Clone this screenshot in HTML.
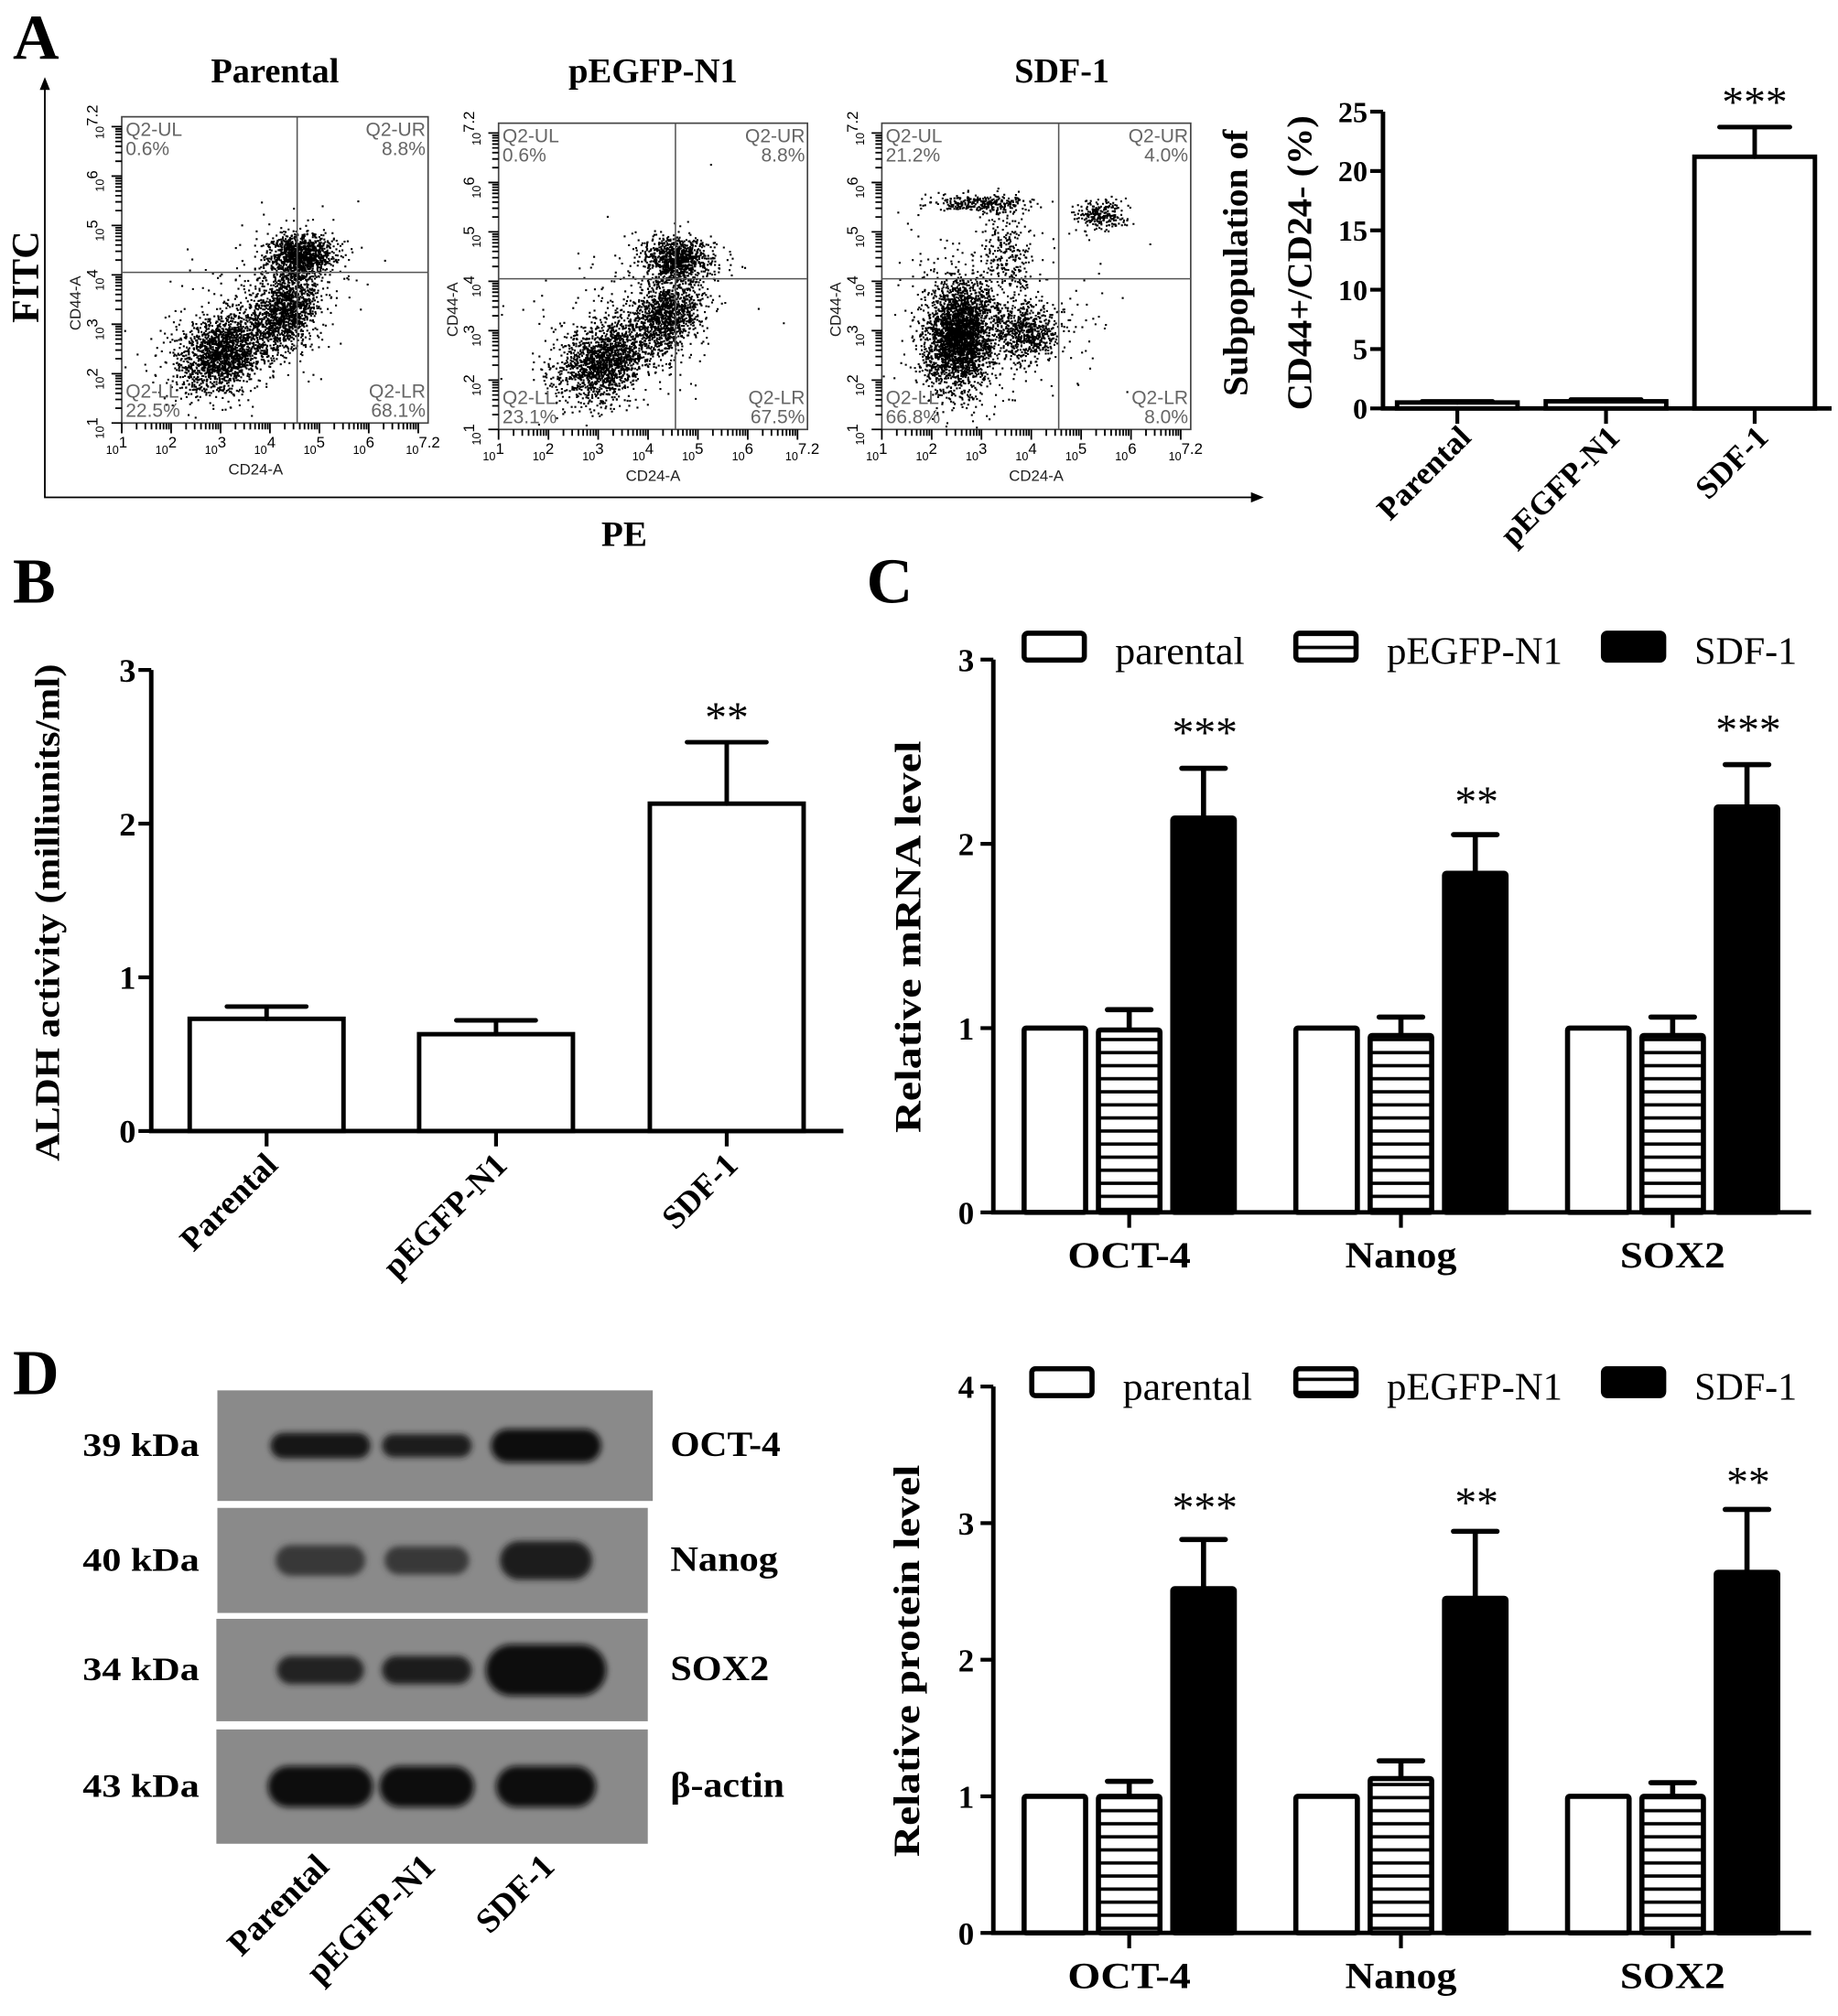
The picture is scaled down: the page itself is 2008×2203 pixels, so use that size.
<!DOCTYPE html>
<html><head><meta charset="utf-8"><style>
html,body{margin:0;padding:0;background:#fff;}
svg{display:block;}
</style></head><body>
<svg id="fig" xmlns="http://www.w3.org/2000/svg" width="2008" height="2203" viewBox="0 0 1434 1573" font-family="Liberation Serif, serif">
<defs>
<filter id="blur" x="-30%" y="-60%" width="160%" height="220%"><feGaussianBlur stdDeviation="2.5"/></filter>
<pattern id="hatch" patternUnits="userSpaceOnUse" width="10" height="10.2"><rect width="10" height="10.2" fill="#fff"/><rect y="4" width="10" height="2.6" fill="#000"/></pattern>
</defs>
<g id="root"></g>
</svg>
<script>
// ---------- data ----------
const aCategories = ['Parental','pEGFP-N1','SDF-1'];
const aValues = [0.5, 0.6, 21.2];
const aErrTop = [0.6, 0.75, 23.7];
const aTicks = [0,5,10,15,20,25];
const bCategories = ['Parental','pEGFP-N1','SDF-1'];
const bValues = [0.73, 0.63, 2.13];
const bErrTop = [0.81, 0.72, 2.53];
const bTicks = [0,1,2,3];
const genes = ['OCT-4','Nanog','SOX2'];
const cParental = [1,1,1];
const cPegfp = [0.99,0.96,0.96];
const cPegfpErr = [1.10,1.06,1.06];
const cSdf = [2.14,1.84,2.20];
const cSdfErr = [2.41,2.05,2.43];
const cStars = ['***','**','***'];
const cTicks = [0,1,2,3];
const dParental = [1,1,1];
const dPegfp = [1.0,1.13,1.0];
const dPegfpErr = [1.11,1.26,1.10];
const dSdf = [2.52,2.45,2.64];
const dSdfErr = [2.88,2.94,3.10];
const dStars = ['***','**','**'];
const dTicks = [0,1,2,3,4];
const flowTitles = ['Parental','pEGFP-N1','SDF-1'];
const flowQuadUL = ['0.6%','0.6%','21.2%'];
const flowQuadUR = ['8.8%','8.8%','4.0%'];
const flowQuadLL = ['22.5%','23.1%','66.8%'];
const flowQuadLR = ['68.1%','67.5%','8.0%'];
// cluster centres in log10 units: [cx, cy, sx, sy, rho, n]
const flowClusters1 = [[3.0,2.45,0.45,0.40,0.3,1700],[4.3,3.3,0.33,0.40,0.2,1300],[4.6,4.4,0.32,0.22,0,1100],[3.6,3.1,1.0,0.9,0.5,350]];
const flowClusters2 = [[3.1,2.4,0.45,0.40,0.3,1500],[4.35,3.3,0.33,0.40,0.2,1100],[4.6,4.45,0.32,0.22,0,900],[3.6,3.1,1.0,0.9,0.5,350]];
const flowClusters3 = [[2.55,2.9,0.35,0.55,0.1,2800],[3.9,3.0,0.35,0.30,0,600],[3.0,5.6,0.5,0.09,0,300],[5.4,5.35,0.25,0.17,0,250],[3.5,4.5,0.25,0.5,0,250],[3.2,3.2,1.0,0.9,0,350]];
const blotRows = ['OCT-4','Nanog','SOX2','β-actin'];
const blotKda = ['39 kDa','40 kDa','34 kDa','43 kDa'];
const blotIntensity = [[0.9,0.85,1.0],[0.6,0.6,0.85],[0.8,0.85,1.0],[1.0,1.0,1.0]];
const blotWidth = [[78,70,86],[70,66,72],[68,70,94],[82,74,78]];
const blotHeight = [[20,18,26],[24,22,30],[22,22,40],[32,32,32]];

// ---------- helpers ----------
const NS='http://www.w3.org/2000/svg';
const root=document.getElementById('root');
function el(tag, attrs, parent, txt){
  const e=document.createElementNS(NS,tag);
  for(const k in attrs) e.setAttribute(k,attrs[k]);
  if(txt!==undefined) e.textContent=txt;
  (parent||root).appendChild(e);
  return e;
}
function rnd(seed){return function(){seed|=0;seed=seed+0x6D2B79F5|0;let t=Math.imul(seed^seed>>>15,1|seed);t=t+Math.imul(t^t>>>7,61|t)^t;return((t^t>>>14)>>>0)/4294967296;};}
const SANS='font-family:"Liberation Sans",sans-serif';

// ---------- panel letters ----------
[['A',10,46],['B',10,470],['C',676,470],['D',10,1088]].forEach(([t,x,y])=>{
  const e=el('text',{x:x,y:y,'font-size':50,'font-weight':'bold'},root,t);
  
  
});

// ---------- Panel A flow plots ----------
const axA=el('path',{d:'M35,64 L35,388 L982,388',fill:'none',stroke:'#000','stroke-width':1.3});


const arrows=el('path',{d:'M31,70 L35,60 L39,70 Z M976,384 L986,388 L976,392 Z',fill:'#000'});


let t=el('text',{x:0,y:0,'font-size':30,'font-weight':'bold','text-anchor':'middle',transform:'translate(30,216) rotate(-90)'},root,'FITC');


t=el('text',{x:487,y:426,'font-size':28,'font-weight':'bold','text-anchor':'middle'},root,'PE');



const flowBoxes=[[95,91,334,330],[389,96,630,335],[688,96,929,335]];
const flowClusters=[flowClusters1,flowClusters2,flowClusters3];
const titleLens=[100,132,74];
flowBoxes.forEach((b,i)=>{
  const [x0,y0,x1,y1]=b;
  const g=el('g',{});
  
  
  const fx=v=>x0+(v-1)/6.2*(x1-x0);
  const fy=v=>y1-(v-1)/6.2*(y1-y0);
  let tt=el('text',{x:(x0+x1)/2+(i==2?20:0),y:64,'font-size':27,'font-weight':'bold','text-anchor':'middle',textLength:titleLens[i],lengthAdjust:'spacingAndGlyphs'},g,flowTitles[i]);
  
  
  const r=rnd(17+i*101);
  flowClusters[i].forEach((c,ci)=>{
    const [cx,cy,sx,sy,rho,n]=c;
    let d='';
    for(let k=0;k<n;k++){
      const u1=r()||1e-9,u2=r();
      const z1=Math.sqrt(-2*Math.log(u1))*Math.cos(2*Math.PI*u2);
      const z2=Math.sqrt(-2*Math.log(u1))*Math.sin(2*Math.PI*u2);
      const lx=cx+sx*z1, ly=cy+sy*(rho*z1+Math.sqrt(1-rho*rho)*z2);
      if(lx<1.02||lx>7.18||ly<1.02||ly>7.18) continue;
      d+='M'+fx(lx).toFixed(1)+' '+fy(ly).toFixed(1)+'h1.5v1.5h-1.5z';
    }
    const p=el('path',{d:d,fill:'#000'},g);
    
    
  });
  const box=el('rect',{x:x0,y:y0,width:x1-x0,height:y1-y0,fill:'none',stroke:'#444','stroke-width':1.2},g);
  
  
  const qx=fx(4.55), qy=fy(4.05);
  const q=el('path',{d:`M${qx},${y0}V${y1}M${x0},${qy}H${x1}`,stroke:'#555','stroke-width':1.1,fill:'none'},g);
  
  
  let td='';
  for(let dec=1;dec<=7;dec++){
    for(let k=1;k<=9;k++){
      const v=dec+Math.log10(k); if(v>7.2) break;
      const L=k==1?8:5;
      td+=`M${fx(v).toFixed(1)},${y1}v${L}M${x0},${fy(v).toFixed(1)}h${-L}`;
    }
  }
  const tk=el('path',{d:td,stroke:'#000','stroke-width':1.3,fill:'none'},g);
  
  
  const decs=[1,2,3,4,5,6,7.2];
  const sup=['1','2','3','4','5','6','7.2'];
  decs.forEach((v,j)=>{
    const lb=el('text',{x:fx(v)-4,y:y1+24,'font-size':9,style:SANS,'text-anchor':'middle'},g,'10');
    
    
    el('tspan',{dy:-5,'font-size':12},lb,sup[j]);
    const lb2=el('text',{x:0,y:0,'font-size':9,style:SANS,'text-anchor':'middle',transform:`translate(${x0-14},${fy(v)+4}) rotate(-90)`},g,'10');
    
    
    el('tspan',{dy:-5,'font-size':12},lb2,sup[j]);
  });
  let ax=el('text',{x:(x0+x1)/2+(i==0?-15:0),y:y1+40,'font-size':12,style:SANS,'text-anchor':'middle',fill:'#222'},g,'CD24-A');
  
  
  ax=el('text',{x:0,y:0,'font-size':12,style:SANS,'text-anchor':'middle',fill:'#222',transform:`translate(${x0-32},${qy+24}) rotate(-90)`},g,'CD44-A');
  
  
  const qs=[['Q2-UL',flowQuadUL[i],x0+3,y0+15,'start'],['Q2-UR',flowQuadUR[i],x1-2,y0+15,'end'],['Q2-LL',flowQuadLL[i],x0+3,y1-20,'start'],['Q2-LR',flowQuadLR[i],x1-2,y1-20,'end']];
  qs.forEach(([a,bb,x,y,anchor])=>{
    const q1=el('text',{x:x,y:y,'font-size':15,style:SANS,'text-anchor':anchor,fill:'#666'},g,a);
    
    
    const q2=el('text',{x:x,y:y+15,'font-size':15,style:SANS,'text-anchor':anchor,fill:'#666'},g,bb);
    
    
  });
});

// ---------- simple bar chart ----------
function simpleBars(opt){
  const g=el('g',{});
  
  
  const y=v=>opt.y0-v/opt.max*(opt.y0-opt.yTop);
  const ax=el('path',{d:`M${opt.ax},${y(opt.max)}V${opt.y0}H${opt.axEnd}`,stroke:'#000','stroke-width':3.5,fill:'none'},g);
  
  
  opt.ticks.forEach(v=>{
    const tk=el('line',{x1:opt.ax-10,x2:opt.ax,y1:y(v),y2:y(v),stroke:'#000','stroke-width':3},g);
    
    
    const tl=el('text',{x:opt.ax-12,y:y(v)+opt.tf*0.35,'font-size':opt.tf,'font-weight':'bold','text-anchor':'end'},g,String(v));
    
    
  });
  opt.cats.forEach((c,i)=>{
    const cx=opt.cx[i];
    const b=el('rect',{x:cx-opt.bw/2,y:y(opt.vals[i]),width:opt.bw,height:opt.y0-y(opt.vals[i]),fill:'#fff',stroke:'#000','stroke-width':3.5},g);
    
    
    const e=el('path',{d:`M${cx},${y(opt.vals[i])}V${y(opt.err[i])}M${cx-opt.cap/2},${y(opt.err[i])}H${cx+opt.cap/2}`,stroke:'#000','stroke-width':3.5,'stroke-linecap':'round',fill:'none'},g);
    
    
    const tk=el('line',{x1:cx,x2:cx,y1:opt.y0,y2:opt.y0+12,stroke:'#000','stroke-width':3},g);
    
    
    const lb=el('text',{x:0,y:0,'font-size':opt.lf,'font-weight':'bold','text-anchor':'end',transform:`translate(${cx+opt.lx},${opt.y0+opt.ly}) rotate(-45)`},g,c);
    
    
    if(opt.stars[i]){
      const s=el('text',{x:cx,y:y(opt.err[i])-opt.sOff,'font-size':opt.sf,'text-anchor':'middle'},g,opt.stars[i]);
      
      
    }
  });
  const yt=el('g',{transform:`translate(${opt.tx},${opt.ty}) rotate(-90)`},g);
  opt.title.forEach((ln,k)=>{
    const tl=el('text',{x:0,y:k*opt.tgap,'font-size':opt.titleF,'font-weight':'bold','text-anchor':'middle',textLength:opt.tlen[k],lengthAdjust:'spacingAndGlyphs'},yt,ln);
    
    
  });
}
simpleBars({name:'cd44-cd24-bar-chart',cats:aCategories,vals:aValues,err:aErrTop,ticks:aTicks,max:25,y0:318.6,yTop:87,ax:1079,axEnd:1429,cx:[1137,1253,1369],bw:94,cap:55,tf:23,lf:25,lx:12,ly:24,sf:34,sOff:8,stars:['','','***'],title:['Subpopulation of','CD44+/CD24- (%)'],tlen:[208,230],tgap:50,titleF:27,tx:973,ty:205});
simpleBars({name:'aldh-bar-chart',cats:bCategories,vals:bValues,err:bErrTop,ticks:bTicks,max:3,y0:882.5,yTop:522.7,ax:118,axEnd:658,cx:[208,387,567],bw:120,cap:62,tf:26,lf:26,lx:10,ly:28,sf:34,sOff:8,stars:['','','**'],title:['ALDH activity (milliunits/ml)'],tlen:[388],tgap:0,titleF:27,tx:46,ty:712});

// ---------- grouped bar charts ----------
function grouped(opt){
  const g=el('g',{});
  
  
  const y=v=>opt.y0-v*opt.unit;
  const top=y(opt.ticks[opt.ticks.length-1]);
  const ax=el('path',{d:`M775,${top}V${opt.y0}H1413`,stroke:'#000','stroke-width':3.5,fill:'none'},g);
  
  
  opt.ticks.forEach(v=>{
    const tk=el('line',{x1:765,x2:775,y1:y(v),y2:y(v),stroke:'#000','stroke-width':3},g);
    
    
    const tl=el('text',{x:760,y:y(v)+9,'font-size':25,'font-weight':'bold','text-anchor':'end'},g,String(v));
    
    
  });
  const centers=[881,1093,1305];
  const glen=[96,87,82];
  genes.forEach((gn,i)=>{
    const cx=centers[i];
    const series=[[opt.par[i],null,'#fff','parental'],[opt.peg[i],opt.pegE[i],'url(#hatch)','pegfp'],[opt.sdf[i],opt.sdfE[i],'#000','sdf1']];
    series.forEach(([v,e,fill,nm],k)=>{
      const bx=cx+(k-1)*58;
      if(e!==null){
        const eb=el('path',{d:`M${bx},${y(v)}V${y(e)}M${bx-17},${y(e)}H${bx+17}`,stroke:'#000','stroke-width':4,'stroke-linecap':'round',fill:'none'},g);
        
        
      }
      const b=el('rect',{x:bx-24,y:y(v),width:48,height:opt.y0-y(v),fill:fill,stroke:'#000','stroke-width':4,rx:1.5},g);
      
      
    });
    const tk=el('line',{x1:cx,x2:cx,y1:opt.y0,y2:opt.y0+12,stroke:'#000','stroke-width':3},g);
    
    
    const lb=el('text',{x:cx,y:opt.y0+43,'font-size':29,'font-weight':'bold','text-anchor':'middle',textLength:glen[i],lengthAdjust:'spacingAndGlyphs'},g,gn);
    
    
    const s=el('text',{x:cx+59,y:opt.starY[i],'font-size':34,'text-anchor':'middle'},g,opt.stars[i]);
    
    
  });
  const lg=el('g',{},g);
  
  
  const items=[[opt.lx[0],'#fff','parental',101],[1011,'url(#hatch)','pEGFP-N1',137],[1251,'#000','SDF-1',80]];
  items.forEach(([x,f,txt,len])=>{
    const r=el('rect',{x:x,y:opt.ly-20,width:47,height:21,fill:f,stroke:'#000','stroke-width':4,rx:3},lg);
    
    
    const tt=el('text',{x:x+71,y:opt.ly+4,'font-size':30,textLength:len,lengthAdjust:'spacingAndGlyphs'},lg,txt);
    
    
  });
  const yt=el('text',{x:0,y:0,'font-size':29,'font-weight':'bold','text-anchor':'middle',textLength:306,lengthAdjust:'spacingAndGlyphs',transform:`translate(${opt.tx},${opt.ty}) rotate(-90)`},g,opt.title);
  
  
}
grouped({name:'mrna-bar-chart',y0:946,unit:143.8,ticks:cTicks,par:cParental,peg:cPegfp,pegE:cPegfpErr,sdf:cSdf,sdfE:cSdfErr,stars:cStars,starY:[583,637,581],ly:514,lx:[799],title:'Relative mRNA  level',tx:718,ty:731});
grouped({name:'protein-bar-chart',y0:1508.3,unit:106.6,ticks:dTicks,par:dParental,peg:dPegfp,pegE:dPegfpErr,sdf:dSdf,sdfE:dSdfErr,stars:dStars,starY:[1188,1184,1168],ly:1088,lx:[805],title:'Relative protein  level',tx:717,ty:1296});

// ---------- western blot ----------
const wb=el('g',{});


const strips=[[169.6,1084.9,339.7,86.3],[169.6,1176.6,335.8,82],[168.8,1263.2,336.6,79.9],[168.8,1349.5,336.6,89.2]];
const lanes=[250,333,426];
const rightLen=[86,84,77,89];
strips.forEach((s,i)=>{
  const r=el('rect',{x:s[0],y:s[1],width:s[2],height:s[3],fill:'#8a8a8a'},wb);
  
  
  const cy=s[1]+s[3]/2;
  lanes.forEach((lx,j)=>{
    const v=blotIntensity[i][j];
    const c=Math.round(125-115*v);
    const w=blotWidth[i][j], h=blotHeight[i][j];
    const e=el('rect',{x:lx-w/2,y:cy-h/2,width:w,height:h,rx:h/2,fill:`rgb(${c},${c},${c})`,filter:'url(#blur)'},wb);
    
    
  });
  const k=el('text',{x:110,y:cy+8,'font-size':26,'font-weight':'bold','text-anchor':'middle',textLength:91,lengthAdjust:'spacingAndGlyphs'},wb,blotKda[i]);
  
  
  const nm=el('text',{x:523,y:cy+8,'font-size':28,'font-weight':'bold',textLength:rightLen[i],lengthAdjust:'spacingAndGlyphs'},wb,blotRows[i]);
  
  
});
aCategories.forEach((c,j)=>{
  const lb=el('text',{x:0,y:0,'font-size':27,'font-weight':'bold','text-anchor':'end',transform:`translate(${lanes[j]+8},${1458}) rotate(-45)`},wb,c);
  
  
});
</script>
</body></html>
